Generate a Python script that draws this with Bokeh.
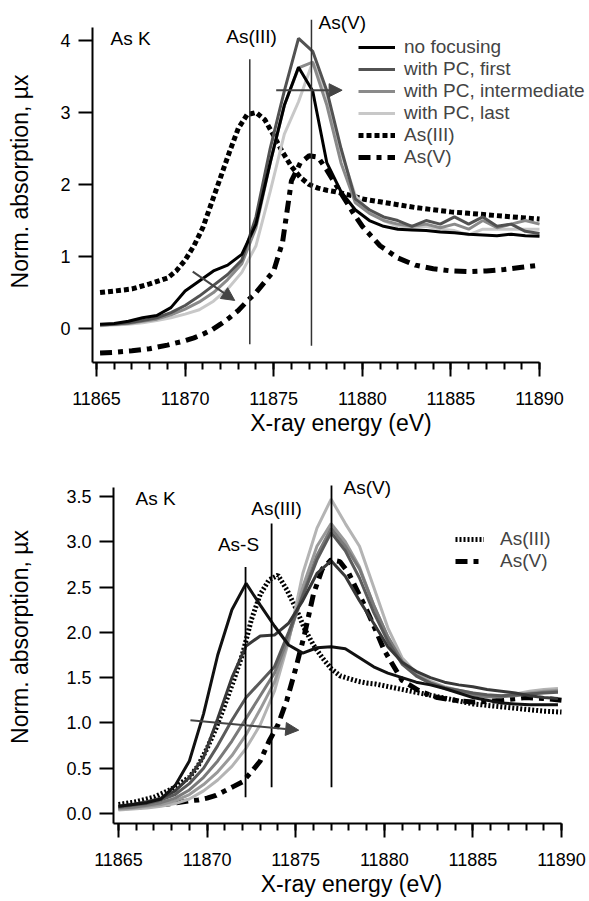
from bokeh.plotting import figure
from bokeh.models import (Range1d, SingleIntervalTicker, FixedTicker, Legend, LegendItem,
                          Arrow, NormalHead, PrintfTickFormatter)
from bokeh.embed import file_html
from bokeh.resources import INLINE
from bokeh.core.properties import value

FONT = "Liberation Sans"

# ---------------- top panel data ----------------
top_energy = [11865.2, 11866.0, 11866.8, 11867.6, 11868.4, 11869.2, 11870.0, 11870.8, 11871.6,
              11872.4, 11873.2, 11874.0, 11874.8, 11875.6, 11876.4, 11877.2, 11878.0, 11878.8,
              11879.6, 11880.4, 11881.2, 11882.0, 11882.8, 11883.6, 11884.4, 11885.2, 11886.0,
              11886.8, 11887.6, 11888.4, 11889.2, 11890.0]
top_no_focusing = [0.06, 0.07, 0.10, 0.15, 0.18, 0.29, 0.52, 0.66, 0.80, 0.88, 1.03, 1.45, 2.30,
                   3.10, 3.63, 3.30, 2.30, 1.90, 1.65, 1.50, 1.42, 1.38, 1.37, 1.36, 1.34, 1.33,
                   1.31, 1.30, 1.29, 1.31, 1.29, 1.28]
top_pc_first = [0.05, 0.06, 0.08, 0.11, 0.15, 0.22, 0.32, 0.45, 0.60, 0.75, 0.95, 1.55, 2.50,
                3.30, 4.03, 3.85, 3.30, 2.50, 1.80, 1.65, 1.55, 1.50, 1.42, 1.50, 1.45, 1.55,
                1.45, 1.55, 1.42, 1.45, 1.35, 1.32]
top_pc_intermediate = [0.05, 0.06, 0.07, 0.10, 0.13, 0.19, 0.27, 0.37, 0.50, 0.68, 0.90, 1.40,
                       2.30, 3.10, 3.62, 3.70, 3.10, 2.30, 1.75, 1.60, 1.50, 1.45, 1.42, 1.45,
                       1.40, 1.45, 1.38, 1.50, 1.40, 1.45, 1.50, 1.45]
top_pc_last = [0.04, 0.05, 0.06, 0.08, 0.11, 0.15, 0.20, 0.26, 0.38, 0.55, 0.78, 1.15, 1.90,
               2.70, 3.15, 3.70, 3.25, 2.45, 1.85, 1.62, 1.50, 1.42, 1.40, 1.42, 1.38, 1.36,
               1.30, 1.38, 1.38, 1.38, 1.38, 1.38]

top_ref_energy = [11865.2, 11866.0, 11867.0, 11868.0, 11869.0, 11869.5, 11870.0, 11870.5, 11871.0,
                  11871.5, 11872.0, 11872.5, 11873.0, 11873.5, 11874.0, 11874.5, 11875.0, 11875.5,
                  11876.0, 11876.5, 11877.0, 11877.5, 11878.0, 11878.5, 11879.0, 11879.5, 11880.0,
                  11881.0, 11882.0, 11883.0, 11884.0, 11885.0, 11886.0, 11887.0, 11888.0, 11889.0,
                  11890.0]
top_as3 = [0.50, 0.52, 0.55, 0.62, 0.70, 0.80, 0.95, 1.15, 1.40, 1.75, 2.10, 2.45, 2.78, 2.97,
           3.00, 2.90, 2.68, 2.45, 2.25, 2.10, 2.00, 1.95, 1.92, 1.90, 1.87, 1.84, 1.80, 1.76,
           1.72, 1.68, 1.65, 1.62, 1.60, 1.58, 1.56, 1.54, 1.52]
top_as5 = [-0.34, -0.33, -0.31, -0.28, -0.23, -0.20, -0.17, -0.13, -0.08, -0.02, 0.06, 0.15,
           0.25, 0.38, 0.50, 0.65, 0.80, 1.20, 2.05, 2.30, 2.40, 2.38, 2.20, 2.00, 1.80, 1.60,
           1.42, 1.15, 0.98, 0.88, 0.83, 0.80, 0.79, 0.80, 0.82, 0.85, 0.88]

top_marker_energy = [11873.65, 11877.13]
top_marker_low = [-0.22, -0.24]
top_marker_high = [3.74, 4.29]
top_text = ["As K", "As(III)", "As(V)"]
top_text_x = [11865.79, 11873.75, 11877.53]
top_text_y = [4.03, 4.06, 4.25]
top_text_align = ["left", "center", "left"]
top_arrows = [(11875.14, 3.31, 11878.86, 3.31), (11870.43, 0.79, 11872.80, 0.39)]

# ---------------- bottom panel data ----------------
bot_energy = [11865.0, 11865.8, 11866.6, 11867.4, 11868.2, 11869.0, 11869.8, 11870.6, 11871.4,
              11872.2, 11873.0, 11873.8, 11874.6, 11875.4, 11876.2, 11877.0, 11877.8, 11878.6,
              11879.4, 11880.2, 11881.0, 11881.8, 11882.6, 11883.4, 11884.2, 11885.0, 11885.8,
              11886.6, 11887.4, 11888.2, 11889.0, 11889.8]
bot_series = {
    "#111111": [0.08, 0.10, 0.12, 0.16, 0.31, 0.58, 1.10, 1.75, 2.25, 2.54, 2.30, 2.07, 1.86,
                1.77, 1.83, 1.84, 1.82, 1.72, 1.62, 1.55, 1.50, 1.45, 1.42, 1.38, 1.33, 1.28,
                1.25, 1.22, 1.21, 1.20, 1.20, 1.20],
    "#383838": [0.08, 0.10, 0.13, 0.17, 0.25, 0.40, 0.62, 1.05, 1.50, 1.85, 1.96, 1.97, 2.10,
                2.35, 2.65, 2.79, 2.62, 2.35, 2.10, 1.84, 1.67, 1.57, 1.50, 1.45, 1.42, 1.40,
                1.37, 1.35, 1.33, 1.30, 1.28, 1.27],
    "#5a5a5a": [0.07, 0.09, 0.11, 0.15, 0.21, 0.33, 0.50, 0.75, 1.03, 1.28, 1.45, 1.62, 2.00,
                2.40, 2.80, 3.10, 2.90, 2.60, 2.22, 1.90, 1.65, 1.52, 1.44, 1.39, 1.36, 1.33,
                1.31, 1.30, 1.31, 1.32, 1.33, 1.34],
    "#7a7a7a": [0.06, 0.07, 0.09, 0.12, 0.17, 0.26, 0.40, 0.58, 0.80, 1.05, 1.30, 1.55, 1.95,
                2.42, 2.85, 3.15, 2.95, 2.70, 2.30, 1.95, 1.68, 1.52, 1.44, 1.38, 1.34, 1.31,
                1.29, 1.29, 1.30, 1.32, 1.34, 1.35],
    "#999999": [0.05, 0.06, 0.08, 0.10, 0.14, 0.21, 0.32, 0.46, 0.64, 0.87, 1.15, 1.45, 1.92,
                2.50, 2.95, 3.20, 3.00, 2.72, 2.30, 1.95, 1.68, 1.53, 1.45, 1.39, 1.35, 1.31,
                1.29, 1.29, 1.31, 1.33, 1.35, 1.36],
    "#b4b4b4": [0.04, 0.05, 0.06, 0.08, 0.11, 0.16, 0.25, 0.37, 0.52, 0.72, 0.98, 1.35, 1.90,
                2.65, 3.15, 3.47, 3.20, 2.95, 2.50, 2.05, 1.72, 1.55, 1.46, 1.40, 1.36, 1.33,
                1.30, 1.30, 1.32, 1.35, 1.37, 1.38],
}
bot_ref_energy = [11865.0, 11866.0, 11867.0, 11868.0, 11869.0, 11869.5, 11870.0, 11870.5, 11871.0,
                  11871.5, 11872.0, 11872.5, 11873.0, 11873.5, 11874.0, 11874.5, 11875.0, 11875.5,
                  11876.0, 11876.5, 11877.0, 11877.5, 11878.0, 11878.5, 11879.0, 11879.5, 11880.0,
                  11881.0, 11882.0, 11883.0, 11884.0, 11885.0, 11886.0, 11887.0, 11888.0, 11889.0,
                  11890.0]
bot_as3 = [0.10, 0.13, 0.18, 0.27, 0.40, 0.53, 0.72, 0.94, 1.20, 1.47, 1.76, 2.14, 2.42, 2.58,
           2.63, 2.47, 2.27, 2.04, 1.86, 1.72, 1.60, 1.52, 1.49, 1.46, 1.44, 1.43, 1.41, 1.37,
           1.33, 1.29, 1.25, 1.21, 1.19, 1.17, 1.15, 1.13, 1.12]
bot_as5 = [0.06, 0.07, 0.09, 0.11, 0.14, 0.15, 0.17, 0.20, 0.25, 0.30, 0.35, 0.46, 0.58, 0.80,
           0.98, 1.25, 1.60, 1.98, 2.42, 2.70, 2.80, 2.78, 2.65, 2.45, 2.25, 2.03, 1.80, 1.47,
           1.35, 1.28, 1.25, 1.23, 1.24, 1.26, 1.28, 1.27, 1.25]

bot_marker_energy = [11872.17, 11873.64, 11877.02]
bot_marker_low = [0.18, 0.29, 0.29]
bot_marker_high = [2.72, 3.20, 3.62]
bot_text = ["As K", "As-S", "As(III)", "As(V)"]
bot_text_x = [11865.96, 11871.77, 11873.92, 11877.70]
bot_text_y = [3.48, 2.97, 3.37, 3.60]
bot_text_align = ["left", "center", "center", "left"]
bot_arrows = [(11869.06, 1.03, 11875.17, 0.92)]

Y_LABEL = "Norm. absorption, \u00b5x"
X_LABEL = "X-ray energy (eV)"


def make_fig(height, xr, yr, ybounds, xbounds, yticks, left, bottom, ylab_standoff):
    p = figure(width=589, height=height, x_range=Range1d(*xr), y_range=Range1d(*yr),
               output_backend="svg", toolbar_location=None,
               min_border_left=left, min_border_right=0, min_border_top=0,
               min_border_bottom=bottom)
    p.outline_line_color = None
    p.xgrid.visible = False
    p.ygrid.visible = False
    p.background_fill_color = "white"
    p.border_fill_color = "white"
    xa = p.xaxis[0]
    ya = p.yaxis[0]
    xa.ticker = SingleIntervalTicker(interval=5, num_minor_ticks=5)
    ya.ticker = FixedTicker(ticks=yticks)
    xa.bounds = xbounds
    ya.bounds = ybounds
    for ax in (xa, ya):
        ax.axis_line_width = 2
        ax.axis_line_color = "black"
        ax.major_tick_line_width = 2
        ax.major_tick_line_color = "black"
        ax.major_tick_in = 0
        ax.major_tick_out = 14
        ax.minor_tick_line_width = 2
        ax.minor_tick_line_color = "black"
        ax.minor_tick_in = 0
        ax.minor_tick_out = 7
        ax.major_label_text_font = FONT
        ax.major_label_text_font_size = "18px"
        ax.major_label_text_color = "black"
        ax.axis_label_text_font = FONT
        ax.axis_label_text_font_size = "23px"
        ax.axis_label_text_font_style = "normal"
        ax.axis_label_text_color = "black"
    ya.minor_tick_line_color = None
    xa.axis_label = X_LABEL
    ya.axis_label = Y_LABEL
    xa.major_label_standoff = 15
    xa.axis_label_standoff = 2
    ya.major_label_standoff = 8
    ya.axis_label_standoff = ylab_standoff
    return p


# ---------------- top figure ----------------
p1 = make_fig(450, (11864.774, 11892.82), (-0.472, 4.556), (-0.472, 4.18),
              (11864.774, 11890), [0, 1, 2, 3, 4], 92, 88, 24)

r_as3 = p1.line(top_ref_energy, top_as3, line_color="black", line_width=5, line_dash="5 3")
r_as5 = p1.line(top_ref_energy, top_as5, line_color="black", line_width=5, line_dash="12 6 5 6")
r_last = p1.line(top_energy, top_pc_last, line_color="#c8c8c8", line_width=3)
r_int = p1.line(top_energy, top_pc_intermediate, line_color="#8a8a8a", line_width=3)
r_first = p1.line(top_energy, top_pc_first, line_color="#525252", line_width=3)
r_nf = p1.line(top_energy, top_no_focusing, line_color="black", line_width=3)

p1.segment(x0=top_marker_energy, y0=top_marker_low, x1=top_marker_energy, y1=top_marker_high,
           line_color="#333333", line_width=1.5)
p1.text(x=top_text_x, y=top_text_y, text=top_text, text_align=top_text_align,
        text_baseline="middle", text_font=value(FONT), text_font_size="19px",
        text_color="black")
for (xs, ys, xe, ye) in top_arrows:
    p1.add_layout(Arrow(end=NormalHead(size=13, fill_color="#444444", line_color="#444444"),
                        x_start=xs, y_start=ys, x_end=xe, y_end=ye,
                        line_color="#444444", line_width=2))

leg1 = Legend(items=[LegendItem(label="no focusing", renderers=[r_nf]),
                     LegendItem(label="with PC, first", renderers=[r_first]),
                     LegendItem(label="with PC, intermediate", renderers=[r_int]),
                     LegendItem(label="with PC, last", renderers=[r_last]),
                     LegendItem(label="As(III)", renderers=[r_as3]),
                     LegendItem(label="As(V)", renderers=[r_as5])],
              location=(266, 194), glyph_width=37, glyph_height=20, label_height=20,
              label_standoff=9, spacing=0, padding=0, margin=0,
              border_line_color=None, background_fill_alpha=0,
              label_text_font=FONT, label_text_font_size="19px")
p1.add_layout(leg1)

# ---------------- bottom figure ----------------
p2 = make_fig(451, (11864.718, 11891.58), (-0.11, 4.007), (-0.11, 3.6),
              (11864.718, 11890), [0.0, 0.5, 1.0, 1.5, 2.0, 2.5, 3.0, 3.5], 113, 78, 30)
p2.yaxis[0].formatter = PrintfTickFormatter(format="%.1f")

b_as3 = p2.line(bot_ref_energy, bot_as3, line_color="black", line_width=5, line_dash="2 2")
b_as5 = p2.line(bot_ref_energy, bot_as5, line_color="black", line_width=5, line_dash="12 6 5 6")
for col in ["#b4b4b4", "#999999", "#7a7a7a", "#5a5a5a", "#383838", "#111111"]:
    p2.line(bot_energy, bot_series[col], line_color=col, line_width=3)

p2.segment(x0=bot_marker_energy, y0=bot_marker_low, x1=bot_marker_energy, y1=bot_marker_high,
           line_color="black", line_width=1.8)
p2.text(x=bot_text_x, y=bot_text_y, text=bot_text, text_align=bot_text_align,
        text_baseline="middle", text_font=value(FONT), text_font_size="19px",
        text_color="black")
for (xs, ys, xe, ye) in bot_arrows:
    p2.add_layout(Arrow(end=NormalHead(size=13, fill_color="#444444", line_color="#444444"),
                        x_start=xs, y_start=ys, x_end=xe, y_end=ye,
                        line_color="#444444", line_width=2))

leg2 = Legend(items=[LegendItem(label="As(III)", renderers=[b_as3]),
                     LegendItem(label="As(V)", renderers=[b_as5])],
              location=(342, 251), glyph_width=29, glyph_height=20, label_height=20,
              label_standoff=16, spacing=0, padding=0, margin=0,
              border_line_color=None, background_fill_alpha=0,
              label_text_font=FONT, label_text_font_size="19px")
p2.add_layout(leg2)

# two independent roots, stacked one under the other (keeps each frame's own left edge)
open("out.html", "w").write(file_html([p1, p2], INLINE))
